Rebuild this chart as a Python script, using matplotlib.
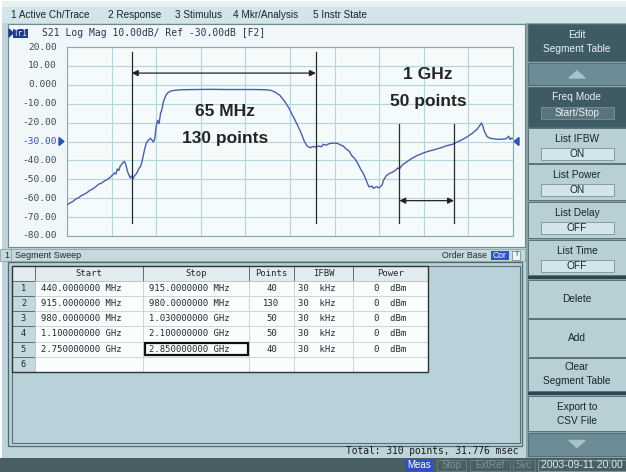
import matplotlib
matplotlib.use("Agg")
import matplotlib.pyplot as plt
from matplotlib import font_manager
from matplotlib.patches import Rectangle, FancyBboxPatch, Polygon

# ---- data ----
trace_idx = [0, 2, 4, 6, 8, 10, 12, 14, 16, 18, 20, 22, 24, 26, 28, 30, 31, 32, 33, 34,
             35, 36, 37, 38, 39, 40, 41, 42, 43, 44, 45, 46, 47, 48, 49, 50, 51, 52, 53, 54,
             55, 56, 57, 58, 59, 60, 61, 62, 63, 64, 65, 66, 67, 68, 69, 70, 72, 75, 80, 90,
             100, 110, 120, 130, 138, 142, 145, 148, 151, 154, 157, 160, 163, 165, 167, 169,
             171, 173, 175, 177, 178, 180, 182, 185, 188, 190, 192, 194, 196, 198, 200, 202,
             204, 206, 208, 209, 210, 212, 213, 215, 217, 219, 220, 222, 224, 226, 228, 230,
             231, 233, 236, 240, 244, 248, 252, 256, 260, 264, 268, 270, 274, 278, 282, 285,
             287, 288, 289, 290, 292, 294, 297, 300, 303, 305, 306, 307, 308, 309, 310]
trace_db = [-63.5, -62.5, -61.8, -60.5, -59.8, -58.6, -57.9, -57.0, -55.8, -55.1, -53.9, -52.6,
            -52.0, -50.9, -50.1, -49.0, -48.2, -47.5, -46.6, -47.2, -44.5, -45.3, -43.0, -42.1,
            -41.0, -40.6, -42.5, -45.8, -47.6, -49.3, -48.2, -49.6, -48.0, -47.3, -46.0, -44.2,
            -43.5, -41.0, -37.5, -34.0, -31.2, -29.8, -29.0, -28.3, -29.2, -30.3, -28.5, -22.0,
            -18.8, -20.5, -15.2, -13.0, -9.0, -7.0, -5.2, -4.3, -3.3, -2.9, -2.6, -2.5,
            -2.4, -2.5, -2.5, -2.5, -2.6, -3.0, -4.0, -5.6, -8.5, -12.0, -16.5, -21.0,
            -26.0, -30.0, -32.5, -33.3, -32.6, -33.0, -32.4, -32.8, -31.5, -32.0, -31.2, -30.8,
            -31.0, -31.8, -32.4, -34.0, -35.0, -37.5, -39.0, -41.5, -44.5, -47.0, -50.5, -52.5,
            -54.0, -53.6, -54.8, -53.9, -54.6, -53.0, -50.5, -48.0, -47.0, -46.3, -45.4, -44.0,
            -44.6, -42.5, -40.8, -38.8, -37.2, -36.0, -35.0, -34.2, -33.3, -32.2, -31.5, -30.7,
            -29.3, -27.6, -25.5, -23.5, -21.5, -20.2, -21.6, -24.5, -27.4, -28.3, -28.6, -28.9,
            -28.7, -28.6, -28.0, -27.2, -29.0, -28.2, -28.5]

y_ticks = [20, 10, 0, -10, -20, -30, -40, -50, -60, -70, -80]
y_labels = ["20.00", "10.00", "0.000", "-10.00", "-20.00", "-30.00",
            "-40.00", "-50.00", "-60.00", "-70.00", "-80.00"]
ref_level = -30
n_points = 310

marker_pos = [45, 173, 231, 269]
marker_top = [17.4, 17.4, -20.7, -20.7]
marker_bottom = -73.1
span_arrows = [(45, 173, 6.2), (231, 269, -61.3)]
span_notes = [(110, -14.2, "65 MHz"), (110, -28.3, "130 points"),
              (251, 5.2, "1 GHz"), (251, -8.9, "50 points")]

menu_items = ["1 Active Ch/Trace", "2 Response", "3 Stimulus", "4 Mkr/Analysis", "5 Instr State"]
menu_x = [11, 108, 175, 233, 313]

seg_start = ["440.0000000 MHz", "915.0000000 MHz", "980.0000000 MHz",
             "1.100000000 GHz", "2.750000000 GHz"]
seg_stop = ["915.0000000 MHz", "980.0000000 MHz", "1.030000000 GHz",
            "2.100000000 GHz", "2.850000000 GHz"]
seg_points = [40, 130, 50, 50, 40]
seg_ifbw = ["30  kHz"] * 5
seg_power = ["0  dBm"] * 5
col_names = ["", "Start", "Stop", "Points", "IFBW", "Power"]
col_edges = [12, 35, 143, 249, 294, 353, 428]

# softkeys: (label, value box text, top, bottom, style)
softkeys = [
    ("Edit\nSegment Table", None, 24, 61, "title"),
    ("", None, 63, 85, "up"),
    ("Freq Mode", "Start/Stop", 87, 127, "dark"),
    ("List IFBW", "ON", 128, 163, "light"),
    ("List Power", "ON", 164, 200, "light"),
    ("List Delay", "OFF", 202, 238, "light"),
    ("List Time", "OFF", 240, 275, "light"),
    ("Delete", None, 280, 318, "light"),
    ("Add", None, 319, 357, "light"),
    ("Clear\nSegment Table", None, 358, 391, "light"),
    ("Export to\nCSV File", None, 396, 431, "light"),
    ("", None, 433, 456, "down"),
]
status_items = [("Meas", 405, 433), ("Stop", 437, 466), ("ExtRef", 470, 510),
                ("Svc", 513, 535), ("2003-09-11 20:00", 538, 632)]

UI = "Liberation Sans"
MONO = "DejaVu Sans Mono"
installed = {f.name for f in font_manager.fontManager.ttflist}
BIG = "Liberation Sans Narrow" if "Liberation Sans Narrow" in installed else "Liberation Sans"
BIG_SIZE = 14 if BIG == "Liberation Sans Narrow" else 12.5

W, H = 626, 472
fig = plt.figure(figsize=(W / 100, H / 100), dpi=100)
fig.patch.set_facecolor("white")
ui = fig.add_axes([0, 0, 1, 1])
ui.set_xlim(0, W)
ui.set_ylim(H, 0)
ui.axis("off")


def box(x0, y0, x1, y1, fc, ec="none", lw=0.8, z=1):
    ui.add_patch(Rectangle((x0, y0), x1 - x0, y1 - y0, facecolor=fc, edgecolor=ec, lw=lw, zorder=z))


def txt(x, y, s, size=7.2, color="#1c2a30", ha="left", family=UI, z=5, **kw):
    ui.text(x, y, s, fontsize=size, color=color, ha=ha, va="center", family=family, zorder=z, **kw)


# screen background with rounded corners
ui.add_patch(FancyBboxPatch((2, 1), 640, 469, boxstyle="round,pad=0,rounding_size=7",
                            facecolor="#bdd4da", edgecolor="none", zorder=0))
box(2, 1, 640, 7, "#e6f0f2", z=0.5)
box(2, 7, 640, 23, "#d3e5e9", z=0.5)
for s, x in zip(menu_items, menu_x):
    txt(x, 15, s, size=7.2, color="#1a262b")

# chart panel
box(8, 24, 525, 247, "#f1f7f9", ec="#71878e", lw=0.8)
ui.add_patch(Polygon([[9, 29], [9, 37], [13, 33]], closed=True, color="#1f3c8a", zorder=5))
box(13, 28.5, 28, 37.5, "#1f3c8a", z=4)
txt(20.5, 33, "Tr1", size=5.5, color="#dfe8f5", ha="center", family=MONO)
txt(42, 33, "S21 Log Mag 10.00dB/ Ref -30.00dB [F2]", size=7.0, color="#26355a", family=MONO)

# segment sweep bar
box(0, 249, 525, 261, "#c6dade", ec="#8ea4ab", lw=0.6)
txt(4, 255, "1", size=6.5)
ui.plot([11, 11], [249, 261], color="#8ea4ab", lw=0.6, zorder=4)
txt(15, 255, "Segment Sweep", size=6.5)
txt(442, 255, "Order Base", size=6.3)
box(491, 250.5, 509, 259.5, "#2f52c4", z=4)
txt(500, 255, "Cor", size=6.2, color="white", ha="center")
box(512, 250.5, 520, 259.5, "#eef4f6", ec="#6b7f86", lw=0.5, z=4)
txt(516, 255, "!", size=5.5, ha="center")

# table area
box(8, 262, 522, 446, "#b9d1d8", ec="#55686e", lw=0.9)
box(12, 266, 520, 443, "none", ec="#5b6e74", lw=0.8, z=1.5)
row_h = 15.1
top = 266
n_rows = len(seg_start) + 1
for c in range(len(col_names)):
    x0, x1 = col_edges[c], col_edges[c + 1]
    box(x0, top, x1, top + row_h, "#e2ecef", ec="#5d7076", lw=0.7, z=2)
    txt((x0 + x1) / 2, top + row_h / 2, col_names[c], size=6.4, ha="center", family=MONO)
    for r in range(n_rows):
        y0 = top + row_h * (r + 1)
        if c == 0:
            box(x0, y0, x1, y0 + row_h, "#c5d8dd", ec="#5d7076", lw=0.7, z=2)
        else:
            box(x0, y0, x1, y0 + row_h, "#fbfdfd", ec="#c2d0d4", lw=0.5, z=2)
box(col_edges[0], top, col_edges[-1], top + row_h * (n_rows + 1), "none", ec="#2b3538", lw=1.0, z=3)
for r in range(n_rows):
    yc = top + row_h * (r + 1.5)
    txt((col_edges[0] + col_edges[1]) / 2, yc, str(r + 1), size=6.2, ha="center", family=MONO)
    if r < len(seg_start):
        txt(col_edges[1] + 6, yc, seg_start[r], size=6.4, family=MONO)
        txt(col_edges[2] + 6, yc, seg_stop[r], size=6.4, family=MONO)
        txt((col_edges[3] + col_edges[4]) / 2, yc, str(seg_points[r]), size=6.4, ha="center", family=MONO)
        txt(col_edges[4] + 4, yc, seg_ifbw[r], size=6.4, family=MONO)
        txt((col_edges[5] + col_edges[6]) / 2, yc, seg_power[r], size=6.4, ha="center", family=MONO)
# selected cell
sel = 4
box(col_edges[2] + 1.5, top + row_h * (sel + 1) + 1.2, col_edges[3] - 1.5,
    top + row_h * (sel + 2) - 1.2, "none", ec="#111", lw=1.6, z=4)

txt(519, 451.5, "Total: 310 points, 31.776 msec", size=6.9, ha="right", family=MONO, color="#1a1a1a")

# softkey panel
box(526, 23, 626, 458, "#8aa3aa", z=0.8)
for label, val, y0, y1, style in softkeys:
    if style in ("title", "dark"):
        fc, tc = "#3e5a63", "#e9f1f3"
    elif style in ("up", "down"):
        fc, tc = "#6c8c95", "#e9f1f3"
    else:
        fc, tc = "#b8cfd5", "#15252b"
    box(528, y0, 626, y1, fc, ec="#4f666d", lw=0.6, z=2)
    xc = 577
    if style == "up":
        yc = (y0 + y1) / 2 + 1
        ui.add_patch(Polygon([[569, yc + 3], [585, yc + 3], [577, yc - 4]], closed=True,
                             color="#a8c2c9", zorder=4))
    elif style == "down":
        yc = (y0 + y1) / 2 - 1
        ui.add_patch(Polygon([[569, yc - 3], [585, yc - 3], [577, yc + 4]], closed=True,
                             color="#a8c2c9", zorder=4))
    elif val is not None:
        txt(xc, y0 + 10.5, label, size=7.3, color=tc, ha="center")
        bfc = "#5a747c" if style == "dark" else "#d4e5e9"
        box(541, y0 + 20, 614, y0 + 32, bfc, ec="#7b9299", lw=0.6, z=3)
        txt(xc, y0 + 26, val, size=7.3, color=tc, ha="center")
    else:
        txt(xc, (y0 + y1) / 2, label, size=7.3, color=tc, ha="center", linespacing=1.5)
box(528, 276, 626, 279, "#2d4650", z=3)
box(528, 392, 626, 395, "#2d4650", z=3)

# status bar
box(0, 458, 626, 472, "#4a5e66", z=2)
for i, (s, x0, x1) in enumerate(status_items):
    if i == 0:
        box(x0, 459.5, x1, 471, "#2d52c0", z=3)
        txt((x0 + x1) / 2, 465.5, s, size=7.0, color="white", ha="center")
    elif i == len(status_items) - 1:
        box(x0, 459.5, x1, 471, "#4a5e66", ec="#8a9ea5", lw=0.6, z=3)
        txt(x0 + 3, 465.5, s, size=7.6, color="#e1e9ec")
    else:
        box(x0, 459.5, x1, 471, "#4a5e66", ec="#6a7e85", lw=0.6, z=3)
        txt((x0 + x1) / 2, 465.5, s, size=7.0, color="#7f949b", ha="center")

# ---- trace plot ----
px0, py0, px1, py1 = 67, 47, 513, 236
ax = fig.add_axes([px0 / W, 1 - py1 / H, (px1 - px0) / W, (py1 - py0) / H])
ax.set_facecolor("#f5fafb")
ax.set_xlim(0, n_points)
ax.set_ylim(-80, 20)
ax.set_xticks([n_points * i / 10 for i in range(11)])
ax.set_yticks(y_ticks)
ax.grid(True, color="#b3d5dd", lw=0.8)
ax.tick_params(length=0, labelbottom=False, labelleft=False)
for sp in ax.spines.values():
    sp.set_color("#8aa8b0")
    sp.set_linewidth(0.8)
ax.plot(trace_idx, trace_db, color="#4c5ea6", lw=1.0, zorder=3)

for xm, yt in zip(marker_pos, marker_top):
    ax.plot([xm, xm], [yt, marker_bottom], color="#2a2a2a", lw=0.9, zorder=4)
for xa, xb, ya in span_arrows:
    ax.annotate("", xy=(xb, ya), xytext=(xa, ya),
                arrowprops=dict(arrowstyle="<|-|>", color="#222", lw=0.9,
                                mutation_scale=9, shrinkA=0, shrinkB=0), zorder=4)
for xn, yn, s in span_notes:
    ax.text(xn, yn, s, fontsize=BIG_SIZE, fontweight="bold", family=BIG,
            color="#242424", ha="center", va="center", zorder=5)

# y labels and reference markers in screen coordinates
for v, lab in zip(y_ticks, y_labels):
    yy = py0 + (20 - v) / 100 * (py1 - py0)
    col = "#2a55b5" if v == ref_level else "#3a4a58"
    txt(57, yy, lab, size=6.8, color=col, ha="right", family=MONO)
yr = py0 + (20 - ref_level) / 100 * (py1 - py0)
ui.add_patch(Polygon([[59, yr - 4], [59, yr + 4], [64, yr]], closed=True, color="#2a55b5", zorder=5))
ui.add_patch(Polygon([[519, yr - 4], [519, yr + 4], [514, yr]], closed=True, color="#2a55b5", zorder=5))

fig.savefig("out.png", dpi=100)
